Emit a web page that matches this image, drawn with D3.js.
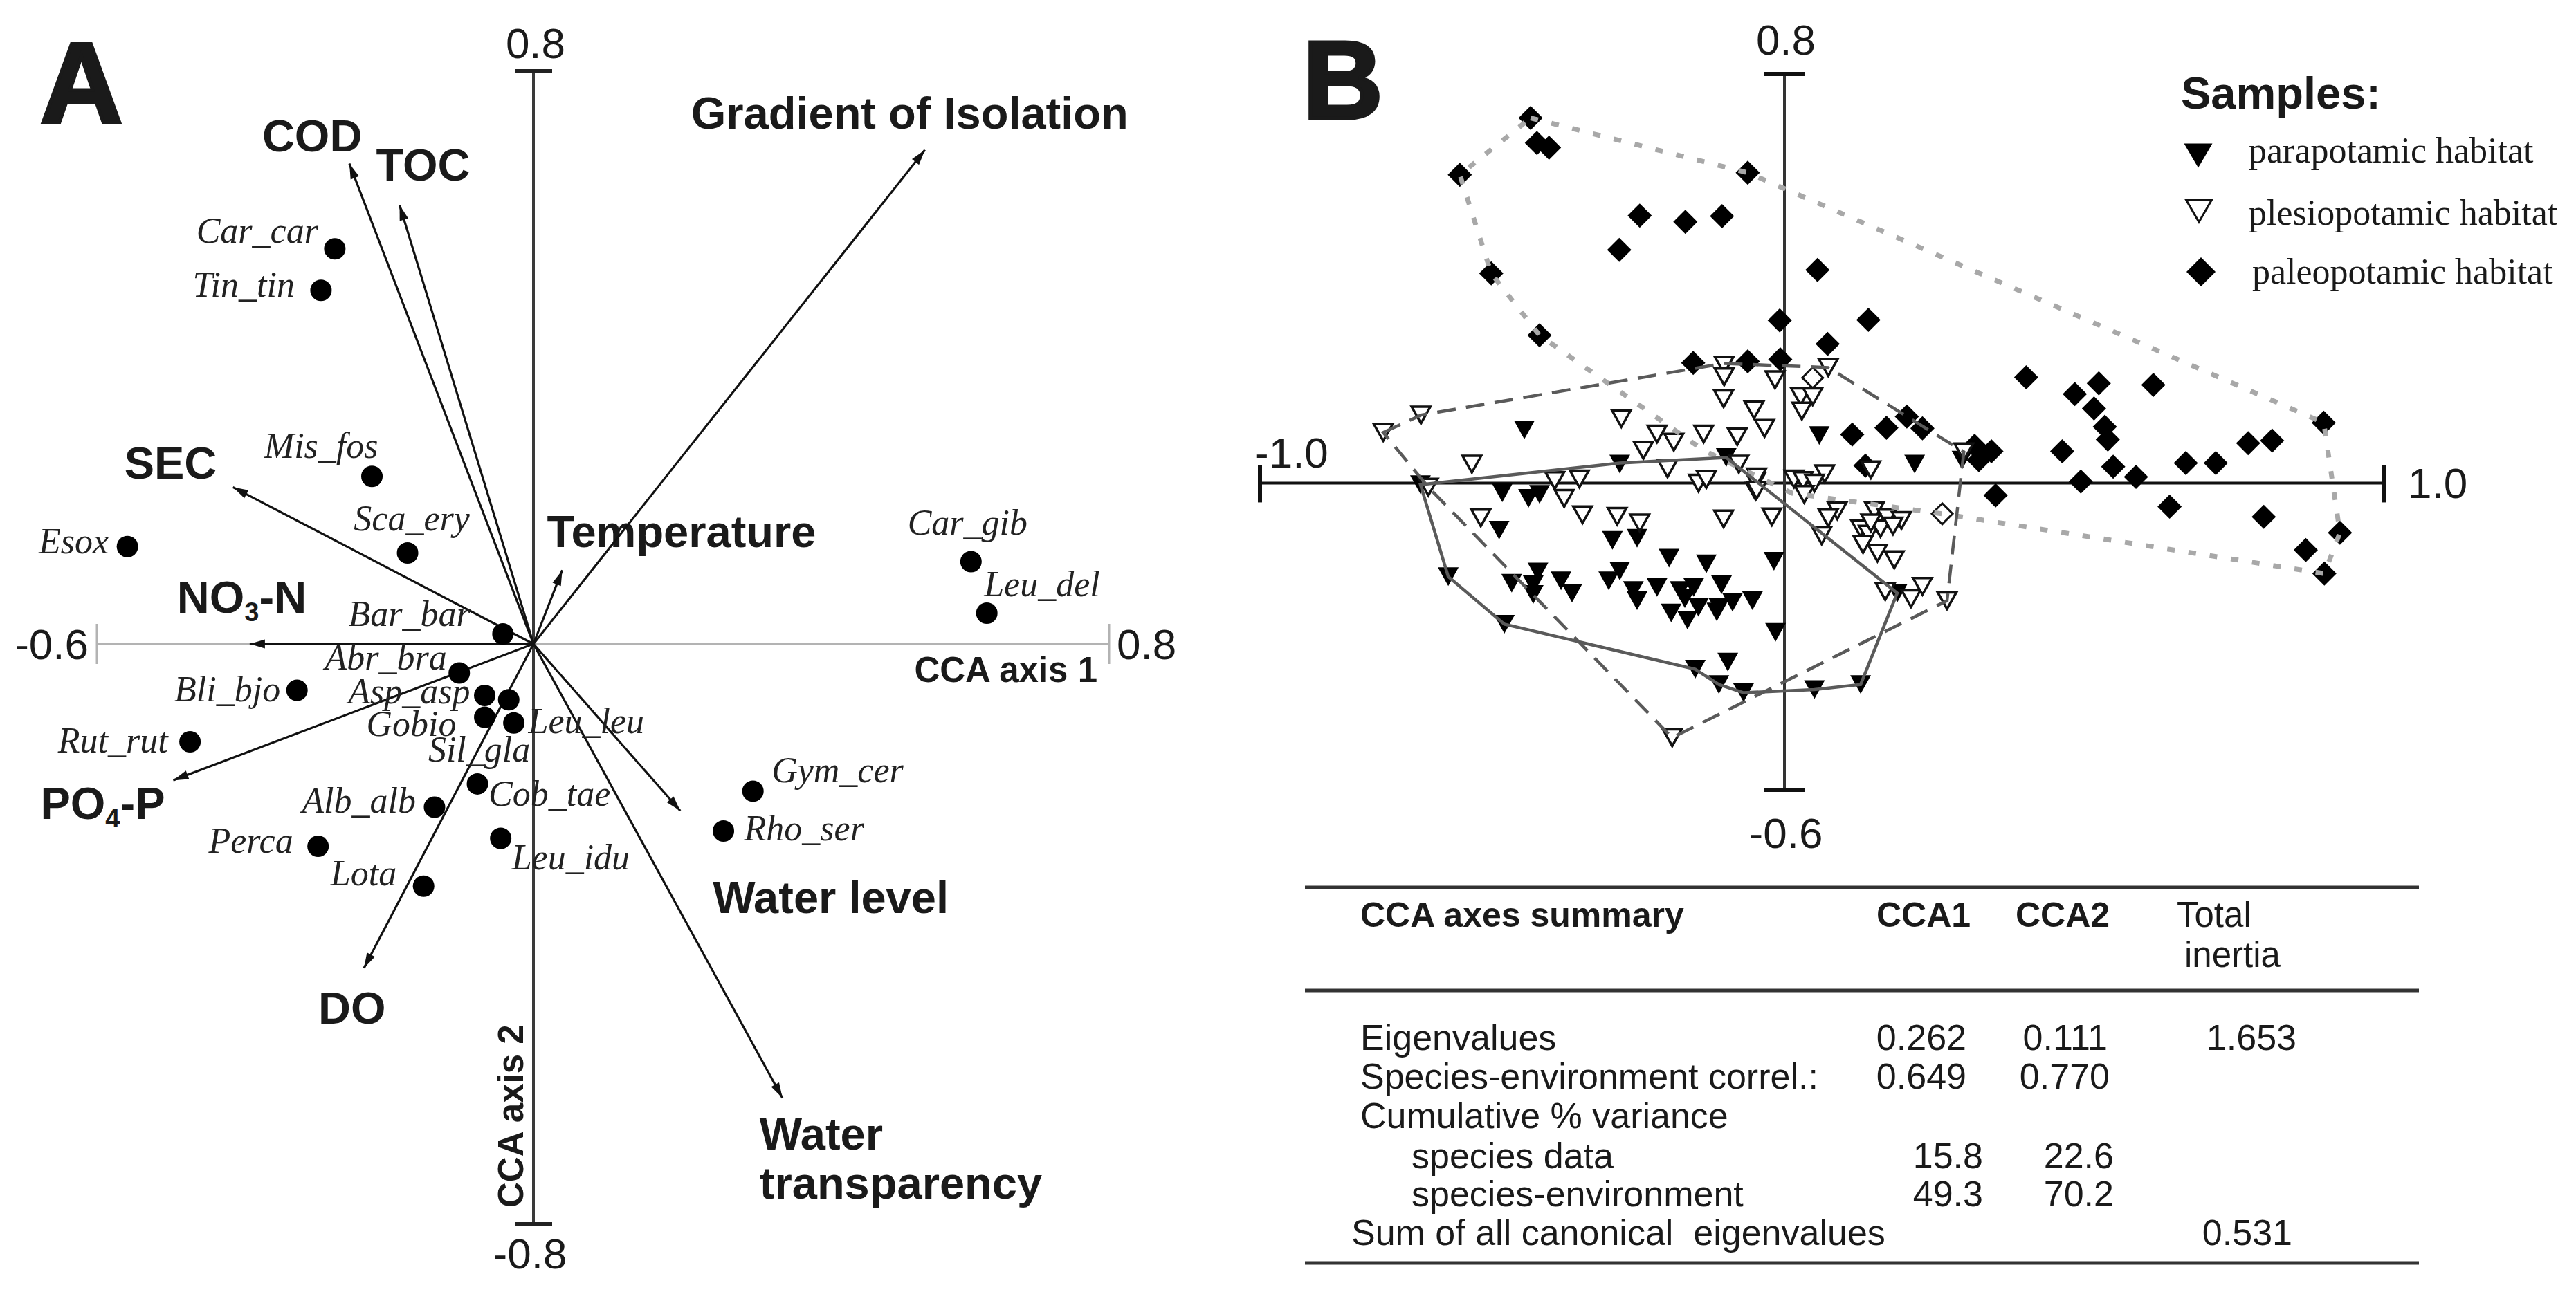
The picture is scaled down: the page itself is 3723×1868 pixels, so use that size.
<!DOCTYPE html>
<html><head><meta charset="utf-8">
<script src="https://cdn.jsdelivr.net/npm/d3@7"></script>
<style>body{margin:0;background:#fff}svg{display:block}</style>
</head><body>
<svg id="chart"></svg>
<script>
// ================= DATA =================
// Panel A – environmental variables (CCA axis 1, CCA axis 2 arrow tips)
const envNames = ["COD","TOC","SEC","NO3-N","PO4-P","DO","Temperature","Gradient of Isolation","Water level","Water transparency"];
const envCCA1 = [-0.253,-0.184,-0.413,-0.390,-0.495,-0.233,0.040,0.544,0.204,0.346];
const envCCA2 = [0.671,0.613,0.219,0.000,-0.188,-0.447,0.103,0.690,-0.230,-0.626];
// Panel A – species scores
const speciesNames = ["Car_car","Tin_tin","Mis_fos","Sca_ery","Esox","Bar_bar","Abr_bra","Bli_bjo","Asp_asp","Sil_gla","Gobio","Leu_leu","Cob_tae","Alb_alb","Perca","Lota","Leu_idu","Rut_rut","Car_gib","Leu_del","Gym_cer","Rho_ser"];
const speciesCCA1 = [-0.273,-0.292,-0.222,-0.173,-0.558,-0.042,-0.102,-0.325,-0.067,-0.034,-0.067,-0.027,-0.077,-0.136,-0.296,-0.151,-0.045,-0.472,0.608,0.630,0.305,0.264];
const speciesCCA2 = [0.552,0.494,0.234,0.127,0.136,0.014,-0.040,-0.064,-0.071,-0.077,-0.101,-0.109,-0.193,-0.225,-0.279,-0.334,-0.268,-0.135,0.115,0.043,-0.203,-0.258];
const tickValuesA1 = [-0.6, 0.8];
const tickValuesA2 = [0.8, -0.8];
const tickLabelsA1 = ["-0.6","0.8"];
const tickLabelsA2 = ["0.8","-0.8"];

// Panel B – sample scores [CCA1, CCA2]
const parapotamic = [[-0.496,0.104],[-0.314,0.037],[-0.111,0.050],[-0.694,-0.003],[-0.538,-0.019],[-0.488,-0.030],[-0.467,-0.022],[-0.544,-0.092],[-0.328,-0.112],[-0.281,-0.108],[-0.220,-0.147],[-0.149,-0.158],[-0.641,-0.183],[-0.520,-0.196],[-0.470,-0.174],[-0.479,-0.199],[-0.479,-0.218],[-0.426,-0.191],[-0.405,-0.215],[-0.335,-0.191],[-0.314,-0.172],[-0.288,-0.210],[-0.281,-0.230],[-0.243,-0.204],[-0.199,-0.210],[-0.173,-0.204],[-0.190,-0.226],[-0.216,-0.254],[-0.185,-0.268],[-0.164,-0.243],[-0.120,-0.199],[-0.125,-0.243],[-0.099,-0.233],[-0.061,-0.230],[-0.129,-0.252],[-0.534,-0.276],[-0.170,-0.364],[-0.108,-0.350],[-0.125,-0.394],[-0.078,-0.410],[0.058,0.093],[0.217,0.037],[0.296,0.045],[0.188,-0.215],[-0.020,-0.153],[-0.017,-0.292],[0.050,-0.404],[0.127,-0.394]];
const plesiopotamic = [[-0.765,0.099],[-0.693,0.133],[-0.311,0.126],[-0.115,0.231],[-0.115,0.208],[-0.116,0.165],[-0.058,0.143],[-0.243,0.096],[-0.211,0.080],[-0.154,0.096],[-0.090,0.091],[-0.269,0.064],[-0.223,0.028],[-0.087,0.037],[-0.596,0.037],[-0.679,-0.008],[-0.438,0.005],[-0.391,0.008],[-0.420,-0.030],[-0.164,0.000],[-0.149,0.007],[-0.055,0.003],[-0.055,-0.016],[-0.579,-0.068],[-0.385,-0.062],[-0.319,-0.065],[-0.276,-0.078],[-0.116,-0.070],[-0.214,-0.498],[-0.018,0.202],[0.073,0.226],[0.027,0.169],[0.047,0.169],[0.029,0.141],[-0.038,0.107],[-0.053,0.012],[-0.053,-0.014],[0.016,0.008],[0.031,0.005],[0.067,0.018],[0.050,0.000],[0.033,-0.022],[0.144,0.026],[0.299,0.061],[0.088,-0.054],[0.073,-0.068],[-0.024,-0.066],[0.062,-0.103],[0.150,-0.054],[0.171,-0.068],[0.195,-0.073],[0.127,-0.089],[0.140,-0.100],[0.160,-0.089],[0.181,-0.084],[0.131,-0.120],[0.155,-0.137],[0.183,-0.150],[0.144,-0.078],[0.168,-0.212],[0.211,-0.226],[0.230,-0.202],[0.271,-0.230]];
const paleopotamic = [[-0.484,0.714],[-0.472,0.665],[-0.449,0.656],[-0.619,0.603],[-0.070,0.607],[-0.276,0.523],[-0.189,0.511],[-0.119,0.522],[-0.315,0.456],[-0.559,0.410],[0.055,0.417],[-0.467,0.289],[-0.009,0.318],[0.072,0.272],[0.140,0.319],[-0.174,0.235],[-0.070,0.238],[-0.008,0.242],[0.403,0.207],[0.484,0.174],[0.524,0.195],[0.615,0.192],[0.516,0.146],[0.534,0.110],[0.539,0.085],[0.463,0.062],[0.548,0.032],[0.494,0.003],[0.586,0.012],[0.669,0.039],[0.719,0.039],[0.773,0.078],[0.813,0.083],[0.899,0.118],[0.642,-0.046],[0.799,-0.066],[0.869,-0.131],[0.926,-0.097],[0.900,-0.177],[0.204,0.130],[0.230,0.107],[0.170,0.108],[0.113,0.095],[0.317,0.073],[0.345,0.062],[0.324,0.045],[0.352,-0.024],[0.135,0.034]];
const paleopotamicOpen = [[0.263,-0.060],[0.047,0.206]];
// Envelopes drawn round each habitat group
const hullPara = [[-0.694,-0.003],[-0.314,0.039],[-0.111,0.050],[0.188,-0.215],[0.127,-0.394],[0.050,-0.404],[-0.078,-0.410],[-0.125,-0.394],[-0.170,-0.364],[-0.534,-0.276],[-0.641,-0.183]];
const hullPlesio = [[-0.765,0.099],[-0.693,0.133],[-0.115,0.234],[0.073,0.226],[0.299,0.061],[0.271,-0.230],[-0.214,-0.498],[-0.679,-0.008]];
const hullPaleo = [[-0.484,0.714],[-0.070,0.607],[0.899,0.118],[0.926,-0.097],[0.900,-0.177],[0.263,-0.060],[0.013,-0.020],[-0.154,0.064],[-0.467,0.289],[-0.559,0.410],[-0.619,0.603]];
const tickValuesB1 = [-1.0, 1.0];
const tickValuesB2 = [0.8, -0.6];
const tickLabelsB1 = ["-1.0","1.0"];
const tickLabelsB2 = ["0.8","-0.6"];
const legendTitle = "Samples:";
const legendLabels = ["parapotamic habitat","plesiopotamic habitat","paleopotamic habitat"];

// Summary table
const tableHeader = ["CCA axes summary","CCA1","CCA2","Total","inertia"];
const tableRowLabels = ["Eigenvalues","Species-environment correl.:","Cumulative % variance","species data","species-environment","Sum of all canonical  eigenvalues"];
const tableCCA1 = ["0.262","0.649","","15.8","49.3",""];
const tableCCA2 = ["0.111","0.770","","22.6","70.2",""];
const tableTotal = ["1.653","","","","","0.531"];

// ================= LAYOUT =================
const W = 3723, H = 1868;
const SANS = "'Liberation Sans', Arial, Helvetica, sans-serif";
const SERIF = "'Liberation Serif', 'Times New Roman', serif";
const INK = "#1a1a1a";
const svg = d3.select("#chart").attr("width", W).attr("height", H);
svg.append("rect").attr("width", W).attr("height", H).attr("fill", "#fff");

// ---------- Panel A ----------
const xA = d3.scaleLinear().domain([-0.6, 0, 0.8]).range([140, 771, 1603]);
const yA = d3.scaleLinear().domain([0.8, 0, -0.8]).range([103, 931, 1770]);
const gA = svg.append("g");

gA.append("text").attr("x", 58).attr("y", 177).text("A")
  .attr("font-family", SANS).attr("font-weight", 700).attr("font-size", 165)
  .attr("fill", INK).attr("stroke", INK).attr("stroke-width", 5);

// horizontal axis (light grey)
gA.append("line").attr("x1", xA(-0.6)).attr("x2", xA(0.8)).attr("y1", yA(0)).attr("y2", yA(0))
  .attr("stroke", "#b3b3b3").attr("stroke-width", 3);
tickValuesA1.forEach((v, i) => {
  gA.append("line").attr("x1", xA(v)).attr("x2", xA(v)).attr("y1", yA(0) - 29).attr("y2", yA(0) + 29)
    .attr("stroke", "#b3b3b3").attr("stroke-width", 3);
  gA.append("text").attr("x", i === 0 ? xA(v) - 12 : xA(v) + 11).attr("y", yA(0) + 22)
    .attr("text-anchor", i === 0 ? "end" : "start").text(tickLabelsA1[i])
    .attr("font-family", SANS).attr("font-size", 62).attr("fill", INK);
});
// vertical axis (dark)
gA.append("line").attr("x1", xA(0)).attr("x2", xA(0)).attr("y1", yA(0.8)).attr("y2", yA(-0.8))
  .attr("stroke", "#3a3a3a").attr("stroke-width", 4);
tickValuesA2.forEach((v, i) => {
  gA.append("line").attr("x1", xA(0) - 27).attr("x2", xA(0) + 27).attr("y1", yA(v)).attr("y2", yA(v))
    .attr("stroke", "#222").attr("stroke-width", 6);
  gA.append("text").attr("x", xA(0) + (i === 0 ? 3 : -5)).attr("y", i === 0 ? yA(v) - 19 : yA(v) + 64)
    .attr("text-anchor", "middle").text(tickLabelsA2[i])
    .attr("font-family", SANS).attr("font-size", 62).attr("fill", INK);
});
gA.append("text").attr("x", 1586).attr("y", 986).attr("text-anchor", "end").text("CCA axis 1")
  .attr("font-family", SANS).attr("font-weight", 700).attr("font-size", 51).attr("fill", INK);
gA.append("text").attr("transform", "translate(756,1746) rotate(-90)").text("CCA axis 2")
  .attr("font-family", SANS).attr("font-weight", 700).attr("font-size", 51).attr("fill", INK);

// arrows
const defs = svg.append("defs");
defs.append("marker").attr("id", "ah").attr("viewBox", "-24 -8 26 16").attr("refX", 0).attr("refY", 0)
  .attr("markerWidth", 26).attr("markerHeight", 16).attr("markerUnits", "userSpaceOnUse").attr("orient", "auto")
  .append("path").attr("d", "M0,0L-22,-6.5L-22,6.5Z").attr("fill", "#111");

const envLayout = [
  {dx: -126, dy: -18}, {dx: -34, dy: -36}, {dx: -157, dy: -12}, {dx: -105, dy: -45}, {dx: -192, dy: 56},
  {dx: -66, dy: 80}, {dx: -22, dy: -33}, {dx: -338, dy: -31}, {dx: 47, dy: 148}, {dx: -33, dy: 74, lines: ["Water", "transparency"], lh: 71}
];
envNames.forEach((name, i) => {
  const tx = xA(envCCA1[i]), ty = yA(envCCA2[i]);
  gA.append("line").attr("x1", xA(0)).attr("y1", yA(0)).attr("x2", tx).attr("y2", ty)
    .attr("stroke", "#111").attr("stroke-width", 3.2).attr("marker-end", "url(#ah)");
  const L = envLayout[i];
  const t = gA.append("text").attr("x", tx + L.dx).attr("y", ty + L.dy)
    .attr("font-family", SANS).attr("font-weight", 700).attr("font-size", 65).attr("fill", INK);
  const m = name.match(/^([A-Z]+)(\d)(-.+)$/);
  if (L.lines) {
    L.lines.forEach((ln, k) => t.append("tspan").attr("x", tx + L.dx).attr("dy", k === 0 ? 0 : L.lh).text(ln));
  } else if (m) {
    t.append("tspan").text(m[1]);
    t.append("tspan").attr("font-size", 38).attr("dy", 12).text(m[2]);
    t.append("tspan").attr("dy", -12).text(m[3]);
  } else {
    t.text(name);
  }
});

// species
const speciesLayout = [
  ["end",-24,-9],["end",-38,9],["end",9,-27],["middle",6,-33],["end",-27,10],["end",-47,-12],["end",-18,-5],
  ["end",-24,16],["end",-21,12],["end",31,89],["end",-41,27],["start",21,15],["start",16,32],["end",-27,8],
  ["end",-36,9],["end",-39,-1],["start",16,45],["end",-32,15],["middle",-5,-39],["start",-4,-24],["start",27,-13],["start",30,13]
];
speciesNames.forEach((name, i) => {
  const cx = xA(speciesCCA1[i]), cy = yA(speciesCCA2[i]);
  gA.append("circle").attr("cx", cx).attr("cy", cy).attr("r", 15.5).attr("fill", "#000");
  const L = speciesLayout[i];
  gA.append("text").attr("x", cx + L[1]).attr("y", cy + L[2]).attr("text-anchor", L[0]).text(name)
    .attr("font-family", SERIF).attr("font-style", "italic").attr("font-size", 52).attr("fill", "#222");
});

// ---------- Panel B ----------
const xB = d3.scaleLinear().domain([-1, 0, 1]).range([1821, 2579, 3446]);
const yB = d3.scaleLinear().domain([0.8, -0.6]).range([107, 1142]);
const gB = svg.append("g");

gB.append("text").attr("x", 1883).attr("y", 171).text("B")
  .attr("font-family", SANS).attr("font-weight", 700).attr("font-size", 160)
  .attr("fill", INK).attr("stroke", INK).attr("stroke-width", 5);

gB.append("line").attr("x1", xB(-1)).attr("x2", xB(1)).attr("y1", yB(0)).attr("y2", yB(0))
  .attr("stroke", "#111").attr("stroke-width", 4);
gB.append("line").attr("x1", xB(0)).attr("x2", xB(0)).attr("y1", yB(0.8)).attr("y2", yB(-0.6))
  .attr("stroke", "#333").attr("stroke-width", 4);
tickValuesB1.forEach((v, i) => {
  gB.append("line").attr("x1", xB(v)).attr("x2", xB(v)).attr("y1", yB(0) - 26).attr("y2", yB(0) + 28)
    .attr("stroke", "#111").attr("stroke-width", 6);
});
gB.append("text").attr("x", xB(-1) - 8).attr("y", yB(0) - 22).text(tickLabelsB1[0])
  .attr("font-family", SANS).attr("font-size", 62).attr("fill", INK);
gB.append("text").attr("x", xB(1) + 34).attr("y", yB(0) + 22).text(tickLabelsB1[1])
  .attr("font-family", SANS).attr("font-size", 62).attr("fill", INK);
tickValuesB2.forEach((v, i) => {
  gB.append("line").attr("x1", xB(0) - 29).attr("x2", xB(0) + 29).attr("y1", yB(v)).attr("y2", yB(v))
    .attr("stroke", "#111").attr("stroke-width", 6);
  gB.append("text").attr("x", xB(0) + 2).attr("y", i === 0 ? yB(v) - 28 : yB(v) + 84)
    .attr("text-anchor", "middle").text(tickLabelsB2[i])
    .attr("font-family", SANS).attr("font-size", 62).attr("fill", INK);
});

const triPath = (w, h) => `M${-w/2},${-h/2}L${w/2},${-h/2}L0,${h/2}Z`;
const diaPath = (r) => `M0,${-r}L${r},0L0,${r}L${-r},0Z`;
const P = d => `translate(${xB(d[0])},${yB(d[1])})`;

gB.append("g").selectAll("path").data(paleopotamic).join("path")
  .attr("transform", P).attr("d", diaPath(17.5)).attr("fill", "#000");
gB.append("g").selectAll("path").data(paleopotamicOpen).join("path")
  .attr("transform", P).attr("d", diaPath(15)).attr("fill", "#fff").attr("stroke", "#111").attr("stroke-width", 3);
gB.append("g").selectAll("path").data(parapotamic).join("path")
  .attr("transform", P).attr("d", triPath(30, 27)).attr("fill", "#000");
gB.append("g").selectAll("path").data(plesiopotamic).join("path")
  .attr("transform", P).attr("d", triPath(27, 24)).attr("fill", "#fff").attr("stroke", "#111").attr("stroke-width", 3.5)
  .attr("stroke-linejoin", "miter");

const hullLine = d3.line().x(d => xB(d[0])).y(d => yB(d[1])).curve(d3.curveLinearClosed);
gB.append("path").attr("d", hullLine(hullPaleo)).attr("fill", "none")
  .attr("stroke", "#a8a8a8").attr("stroke-width", 7).attr("stroke-dasharray", "11,20");
gB.append("path").attr("d", hullLine(hullPlesio)).attr("fill", "none")
  .attr("stroke", "#5a5a5a").attr("stroke-width", 4.5).attr("stroke-dasharray", "27,15");
gB.append("path").attr("d", hullLine(hullPara)).attr("fill", "none")
  .attr("stroke", "#5a5a5a").attr("stroke-width", 4.5);

// legend
const gL = gB.append("g");
gL.append("text").attr("x", 3152).attr("y", 157).text(legendTitle)
  .attr("font-family", SANS).attr("font-weight", 700).attr("font-size", 65).attr("fill", INK);
const legendY = [235, 325, 410];
gL.append("path").attr("transform", "translate(3177,225)").attr("d", triPath(41, 35)).attr("fill", "#000");
gL.append("path").attr("transform", "translate(3178,305)").attr("d", triPath(37, 32)).attr("fill", "#fff")
  .attr("stroke", "#111").attr("stroke-width", 3);
gL.append("path").attr("transform", "translate(3181,393)").attr("d", diaPath(21)).attr("fill", "#000");
legendLabels.forEach((t, i) => {
  gL.append("text").attr("x", i === 2 ? 3255 : 3250).attr("y", legendY[i]).text(t)
    .attr("font-family", SERIF).attr("font-size", 52).attr("fill", INK);
});

// ---------- Table ----------
const gT = svg.append("g");
[1283, 1432, 1826].forEach(y => gT.append("line").attr("x1", 1886).attr("x2", 3496).attr("y1", y).attr("y2", y)
  .attr("stroke", "#333").attr("stroke-width", 5));
const hdr = (x, y, t, bold) => gT.append("text").attr("x", x).attr("y", y).text(t)
  .attr("font-family", SANS).attr("font-weight", bold ? 700 : 400).attr("font-size", bold ? 50 : 51).attr("fill", INK);
hdr(1966, 1340, tableHeader[0], true);
hdr(2712, 1340, tableHeader[1], true);
hdr(2913, 1340, tableHeader[2], true);
hdr(3146, 1340, tableHeader[3], false);
hdr(3157, 1398, tableHeader[4], false);

const rowY = [1518, 1574, 1631, 1689, 1744, 1800];
const rowX = [1966, 1966, 1966, 2040, 2040, 1953];
const c1X = [2842, 2842, 0, 2866, 2866, 0];
const c2X = [3046, 3049, 0, 3055, 3055, 0];
const cTX = [3319, 0, 0, 0, 0, 3313];
const cell = (x, y, t, anchor) => gT.append("text").attr("x", x).attr("y", y).text(t).attr("text-anchor", anchor)
  .attr("font-family", SANS).attr("font-size", 52).attr("fill", INK).style("white-space", "pre");
tableRowLabels.forEach((lab, i) => {
  cell(rowX[i], rowY[i], lab, "start");
  if (tableCCA1[i]) cell(c1X[i], rowY[i], tableCCA1[i], "end");
  if (tableCCA2[i]) cell(c2X[i], rowY[i], tableCCA2[i], "end");
  if (tableTotal[i]) cell(cTX[i], rowY[i], tableTotal[i], "end");
});
</script>
</body></html>
